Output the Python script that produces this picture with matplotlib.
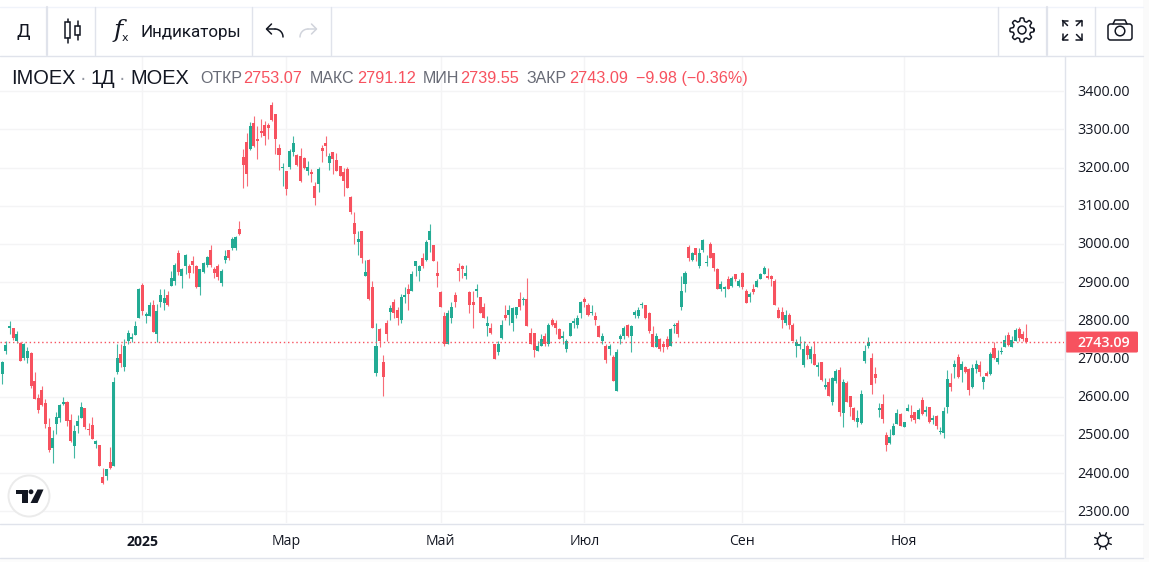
import numpy as np
from matplotlib import pyplot as plt
from matplotlib.patches import Circle, Polygon, Rectangle, FancyBboxPatch

UP = "#22ab94"
DOWN = "#f7525f"
INK = "#131722"
GRID = "#f4f4f5"
BORDER = "#e0e3eb"

opens = [2677, 2659, 2719, 2780, 2780, 2746, 2740, 2702, 2701, 2714,
         2641, 2596, 2617, 2583, 2520, 2465, 2528, 2545, 2581, 2586,
         2539, 2471, 2523, 2545, 2570, 2515, 2526, 2477, 2473, 2391,
         2392, 2429, 2418, 2664, 2712, 2678, 2746, 2751, 2761, 2806,
         2893, 2812, 2812, 2841, 2764, 2848, 2846, 2867, 2890, 2904,
         2975, 2917, 2943, 2943, 2954, 2943, 2888, 2927, 2946, 2985,
         2935, 2943, 2898, 2959, 2983, 2990, 2990, 3040, 3227, 3267,
         3248, 3317, 3275, 3296, 3311, 3311, 3364, 3340, 3251, 3198,
         3190, 3201, 3240, 3232, 3230, 3225, 3190, 3188, 3151, 3156,
         3251, 3264, 3211, 3240, 3219, 3204, 3188, 3196, 3122, 3056,
         3006, 3033, 2917, 2959, 2888, 2661, 2776, 2690, 2792, 2823,
         2849, 2826, 2800, 2862, 2883, 2878, 2943, 2928, 2962, 2959,
         3009, 2996, 2925, 2873, 2810, 2739, 2805, 2865, 2938, 2943,
         2915, 2875, 2849, 2878, 2860, 2834, 2784, 2781, 2737, 2716,
         2753, 2813, 2813, 2794, 2815, 2855, 2852, 2857, 2768, 2766,
         2719, 2732, 2760, 2739, 2800, 2794, 2776, 2753, 2724, 2760,
         2792, 2789, 2818, 2855, 2839, 2820, 2810, 2786, 2747, 2734,
         2724, 2705, 2614, 2750, 2758, 2789, 2758, 2815, 2810, 2839,
         2839, 2820, 2763, 2729, 2752, 2739, 2750, 2732, 2784, 2792,
         2834, 2894, 2993, 2959, 2988, 2943, 2985, 2949, 3001, 2975,
         2933, 2881, 2883, 2907, 2891, 2920, 2891, 2925, 2878, 2862,
         2883, 2888, 2909, 2922, 2917, 2917, 2904, 2828, 2823, 2792,
         2815, 2789, 2734, 2734, 2682, 2734, 2700, 2713, 2679, 2691,
         2626, 2639, 2586, 2641, 2670, 2558, 2636, 2602, 2571, 2534,
         2532, 2694, 2733, 2701, 2660, 2566, 2581, 2500, 2479, 2500,
         2529, 2555, 2521, 2563, 2552, 2560, 2542, 2592, 2560, 2573,
         2539, 2550, 2508, 2505, 2573, 2636, 2678, 2704, 2670, 2678,
         2673, 2626, 2673, 2683, 2639, 2662, 2660, 2728, 2691, 2717,
         2730, 2762, 2730, 2746, 2777, 2764, 2753.07]

highs = [2680, 2693, 2747, 2798, 2781, 2771, 2742, 2740, 2730, 2716,
         2664, 2607, 2628, 2594, 2544, 2513, 2560, 2581, 2599, 2588,
         2554, 2526, 2552, 2586, 2571, 2531, 2547, 2486, 2473, 2413,
         2410, 2468, 2651, 2738, 2738, 2751, 2774, 2767, 2798, 2885,
         2898, 2822, 2848, 2854, 2843, 2883, 2883, 2877, 2930, 2951,
         2983, 2938, 2973, 2948, 2969, 2946, 2935, 2952, 2968, 2996,
         2940, 2948, 2933, 2985, 2985, 3019, 3020, 3059, 3248, 3290,
         3319, 3335, 3309, 3327, 3322, 3317, 3372, 3341, 3261, 3211,
         3191, 3248, 3282, 3235, 3251, 3227, 3217, 3196, 3161, 3201,
         3259, 3282, 3238, 3241, 3238, 3205, 3198, 3201, 3125, 3083,
         3033, 3034, 2959, 2960, 2904, 2792, 2781, 2708, 2802, 2839,
         2857, 2836, 2870, 2886, 2894, 2930, 2955, 2946, 2975, 3009,
         3053, 2998, 2954, 2878, 2823, 2828, 2847, 2875, 2949, 2944,
         2946, 2876, 2878, 2894, 2862, 2844, 2810, 2792, 2739, 2745,
         2800, 2841, 2839, 2836, 2836, 2873, 2860, 2912, 2779, 2768,
         2745, 2763, 2768, 2792, 2807, 2802, 2781, 2773, 2750, 2793,
         2805, 2815, 2850, 2860, 2844, 2841, 2823, 2789, 2766, 2737,
         2737, 2708, 2724, 2763, 2784, 2790, 2789, 2828, 2834, 2849,
         2840, 2821, 2784, 2766, 2753, 2745, 2758, 2779, 2794, 2800,
         2917, 2928, 2996, 2980, 2989, 2988, 3014, 2972, 3006, 2977,
         2936, 2904, 2891, 2917, 2915, 2921, 2907, 2926, 2883, 2875,
         2896, 2907, 2923, 2941, 2938, 2918, 2907, 2836, 2834, 2826,
         2818, 2792, 2750, 2758, 2747, 2737, 2734, 2745, 2692, 2692,
         2649, 2649, 2652, 2673, 2678, 2647, 2641, 2603, 2573, 2566,
         2618, 2735, 2756, 2715, 2678, 2584, 2607, 2508, 2516, 2532,
         2568, 2558, 2535, 2581, 2579, 2561, 2571, 2600, 2576, 2574,
         2552, 2552, 2521, 2573, 2670, 2662, 2696, 2712, 2694, 2681,
         2675, 2686, 2696, 2694, 2653, 2667, 2717, 2743, 2722, 2730,
         2762, 2769, 2759, 2780, 2783, 2772, 2791.12]

lows = [2657, 2634, 2712, 2763, 2748, 2741, 2693, 2696, 2689, 2623,
        2594, 2557, 2576, 2518, 2455, 2426, 2502, 2533, 2578, 2523,
        2481, 2439, 2505, 2544, 2515, 2499, 2489, 2465, 2418, 2371,
        2382, 2410, 2418, 2659, 2678, 2667, 2738, 2743, 2761, 2805,
        2814, 2793, 2811, 2769, 2743, 2835, 2827, 2838, 2890, 2893,
        2919, 2885, 2922, 2912, 2925, 2885, 2867, 2925, 2940, 2940,
        2912, 2906, 2890, 2951, 2959, 2983, 2983, 3022, 3146, 3151,
        3246, 3254, 3222, 3280, 3259, 3275, 3322, 3235, 3193, 3151,
        3127, 3196, 3230, 3204, 3161, 3196, 3180, 3161, 3101, 3135,
        3214, 3230, 3193, 3183, 3190, 3177, 3125, 3146, 3077, 3001,
        2972, 2951, 2917, 2854, 2779, 2653, 2729, 2601, 2745, 2802,
        2807, 2789, 2792, 2844, 2826, 2878, 2915, 2902, 2936, 2956,
        2980, 2956, 2888, 2834, 2732, 2739, 2792, 2836, 2904, 2912,
        2909, 2820, 2781, 2862, 2820, 2807, 2758, 2763, 2698, 2708,
        2750, 2802, 2789, 2771, 2807, 2826, 2839, 2784, 2737, 2703,
        2719, 2732, 2732, 2732, 2784, 2763, 2750, 2737, 2716, 2760,
        2781, 2779, 2807, 2836, 2810, 2813, 2789, 2755, 2739, 2687,
        2708, 2640, 2614, 2737, 2750, 2757, 2716, 2805, 2805, 2831,
        2804, 2768, 2729, 2729, 2719, 2716, 2726, 2732, 2766, 2755,
        2826, 2873, 2956, 2954, 2956, 2936, 2980, 2943, 2962, 2930,
        2881, 2878, 2860, 2881, 2888, 2902, 2886, 2883, 2844, 2847,
        2870, 2886, 2907, 2920, 2907, 2891, 2839, 2805, 2779, 2789,
        2776, 2747, 2703, 2724, 2677, 2698, 2687, 2682, 2653, 2641,
        2620, 2602, 2579, 2636, 2550, 2521, 2586, 2550, 2537, 2521,
        2529, 2688, 2728, 2607, 2636, 2547, 2532, 2458, 2477, 2500,
        2529, 2524, 2521, 2563, 2537, 2532, 2542, 2552, 2550, 2532,
        2529, 2516, 2503, 2492, 2558, 2615, 2649, 2649, 2639, 2662,
        2605, 2623, 2662, 2654, 2620, 2654, 2657, 2699, 2686, 2712,
        2730, 2733, 2730, 2746, 2746, 2746, 2739.55]

closes = [2660, 2691, 2735, 2785, 2754, 2764, 2694, 2738, 2719, 2628,
          2595, 2566, 2579, 2529, 2460, 2492, 2547, 2578, 2586, 2536,
          2484, 2510, 2536, 2573, 2520, 2512, 2489, 2484, 2418, 2374,
          2410, 2413, 2638, 2701, 2688, 2733, 2767, 2756, 2785, 2883,
          2825, 2817, 2841, 2769, 2825, 2867, 2859, 2841, 2911, 2946,
          2927, 2935, 2972, 2925, 2946, 2888, 2933, 2951, 2967, 2946,
          2925, 2914, 2930, 2969, 2964, 3014, 3019, 3025, 3206, 3183,
          3309, 3256, 3269, 3290, 3283, 3304, 3325, 3275, 3232, 3201,
          3143, 3243, 3264, 3206, 3164, 3198, 3201, 3183, 3119, 3196,
          3243, 3256, 3230, 3222, 3190, 3177, 3164, 3146, 3083, 3025,
          3014, 2962, 2927, 2856, 2781, 2732, 2745, 2651, 2763, 2831,
          2818, 2805, 2862, 2865, 2870, 2922, 2954, 2943, 2943, 3006,
          3035, 2956, 2917, 2834, 2737, 2820, 2834, 2849, 2928, 2933,
          2925, 2839, 2839, 2883, 2820, 2807, 2794, 2768, 2698, 2737,
          2787, 2807, 2828, 2831, 2834, 2834, 2857, 2784, 2739, 2721,
          2734, 2752, 2737, 2789, 2789, 2781, 2750, 2760, 2747, 2792,
          2797, 2807, 2849, 2847, 2813, 2823, 2800, 2755, 2758, 2695,
          2734, 2640, 2716, 2758, 2779, 2758, 2786, 2823, 2826, 2841,
          2805, 2771, 2729, 2760, 2724, 2729, 2729, 2776, 2786, 2763,
          2878, 2925, 2962, 2977, 2970, 2977, 3011, 2951, 2964, 2938,
          2881, 2896, 2888, 2883, 2912, 2909, 2902, 2886, 2844, 2868,
          2873, 2902, 2922, 2936, 2912, 2909, 2839, 2807, 2802, 2815,
          2789, 2747, 2742, 2737, 2724, 2708, 2726, 2682, 2684, 2644,
          2631, 2602, 2649, 2667, 2560, 2639, 2586, 2573, 2539, 2545,
          2607, 2720, 2743, 2631, 2649, 2571, 2542, 2474, 2495, 2524,
          2558, 2524, 2534, 2571, 2545, 2539, 2566, 2555, 2566, 2534,
          2545, 2524, 2511, 2563, 2647, 2626, 2686, 2652, 2686, 2665,
          2618, 2675, 2686, 2665, 2652, 2654, 2712, 2701, 2701, 2720,
          2749, 2735, 2749, 2775, 2754, 2751, 2743.09]

price_ticks = [2300, 2400, 2500, 2600, 2700, 2800, 2900, 3000, 3100, 3200, 3300, 3400]
month_bars = [40, 80, 123, 163, 207, 252]
month_labels = ["2025", "Мар", "Май", "Июл", "Сен", "Ноя"]
legend_names = ["ОТКР", "МАКС", "МИН", "ЗАКР"]
legend_values = ["2753.07", "2791.12", "2739.55", "2743.09"]
last_price = 2743.09

W, H = 1149, 562
BAR_PX = 3.593
FIRST_PX = -1.26
PANE_L, PANE_R, PANE_T, PANE_B = 0, 1064, 56, 523
PX_PER_PT = 0.382

plt.rcParams["font.family"] = ["Liberation Sans", "DejaVu Sans"]
px = 72 / 100  # font px -> pt at dpi 100

fig = plt.figure(figsize=(W / 100, H / 100), dpi=100, facecolor="white")

# chart pane
ax = fig.add_axes([PANE_L / W, 1 - PANE_B / H, (PANE_R - PANE_L) / W, (PANE_B - PANE_T) / H])
ax.set_xlim((PANE_L - FIRST_PX) / BAR_PX, (PANE_R - FIRST_PX) / BAR_PX)
ax.set_ylim(2800 - (PANE_B - 320.3) / PX_PER_PT, 2800 + (320.3 - PANE_T) / PX_PER_PT)
for s in ax.spines.values():
    s.set_visible(False)
ax.set_xticks([])
ax.set_yticks([])
for p in price_ticks:
    ax.axhline(p, color=GRID, lw=1, zorder=1)
for b in month_bars:
    ax.axvline(b, color=GRID, lw=1, zorder=1)

o, h, l, c = map(np.array, (opens, highs, lows, closes))
idx = np.arange(len(o))
colors = np.where(c >= o, UP, DOWN)
ax.vlines(idx, l, h, colors=colors, lw=0.8, alpha=0.85, zorder=2)
ax.bar(idx, np.maximum(np.abs(c - o), 2.5), bottom=np.minimum(o, c), width=0.84, color=colors, lw=0, zorder=3)
ax.axhline(last_price, color=DOWN, lw=1, ls=(0, (1, 2)), zorder=4)

# everything around the pane, in pixels
ui = fig.add_axes([0, 0, 1, 1], facecolor="none")
ui.set_xlim(0, W)
ui.set_ylim(H, 0)
ui.axis("off")


def line(xs, ys, color=BORDER, lw=1.0, **kw):
    ui.plot(xs, ys, color=color, lw=lw, solid_capstyle="round", **kw)


ui.add_patch(Rectangle((1143, 0), 6, H, color="#fafafa", lw=0))
ui.add_patch(Rectangle((0, 557.5), W, 5, color="#fcfcfc", lw=0))

# toolbar frame
line([0, 1143], [6.5, 6.5], "#f0f3fa")
line([0, 1143], [55.5, 55.5])
for x in [95.2, 252.2, 331.2, 998.2, 1095.2]:
    line([x, x], [7, 55])
for x in [46.6, 1046.6]:
    line([x, x], [7, 55], lw=1.6)

# pane frame
line([1064.5, 1064.5], [56, 557])
line([0, 1143], [523.5, 523.5])
line([0, 1143], [557.5, 557.5])

# toolbar icons and text
ui.text(23, 32, "Д", fontsize=18 * px, color=INK, ha="center", va="center", family="Roboto")
for x, y0, y1, y2, y3 in [(67.5, 19, 22, 38, 42.5), (77.5, 21, 26, 35, 40)]:
    line([x, x], [y0, y1], INK, 1.1)
    line([x, x], [y2, y3], INK, 1.1)
    ui.add_patch(Rectangle((x - 2.8, y1), 5.6, y2 - y1, fc="white", ec=INK, lw=1.1))
ui.text(118, 31, "f", fontsize=25 * px, color=INK, ha="center", va="center", family="DejaVu Serif", style="italic")
ui.text(125, 38, "x", fontsize=11 * px, color=INK, ha="center", va="center", family="DejaVu Sans")
ui.text(140, 32, "Индикаторы", fontsize=17 * px, color=INK, ha="left", va="center", family="Roboto")

# undo / redo arrows
t = np.linspace(0, np.pi / 2, 12)
for x0, d, col in [(266, 1, INK), (317, -1, "#d1d4dc")]:
    line(x0 + d * (9 + 8 * np.sin(t)), 37 - 8 * np.cos(t), col, 1.1)
    line([x0 + d * 1, x0 + d * 9], [29, 29], col, 1.1)
    line([x0 + d * 5.5, x0 + d * 0.5, x0 + d * 5.5], [24, 29, 34], col, 1.1)

# gear
th = np.linspace(0, 2 * np.pi, 161)
rg = 10.5 + 1.6 * np.tanh(3 * np.cos(8 * th))
line(1022 + rg * np.cos(th), 30 + rg * np.sin(th), INK, 1.1)
ui.add_patch(Circle((1022, 30), 4, fc="none", ec=INK, lw=1.1))

# expand arrows
for sx, sy in [(-1, -1), (1, -1), (-1, 1), (1, 1)]:
    cx, cy = 1072 + sx * 9.5, 30 + sy * 9.5
    line([cx, cx - sx * 5], [cy, cy - sy * 5], INK, 1.1)
    line([cx, cx - sx * 5.5], [cy, cy], INK, 1.1)
    line([cx, cx], [cy, cy - sy * 5.5], INK, 1.1)

# camera
ui.add_patch(FancyBboxPatch((1108, 24), 24, 16, boxstyle="round,pad=0,rounding_size=2.5", fc="none", ec=INK, lw=1.1))
line([1113, 1115, 1125, 1127], [24, 20, 20, 24], INK, 1.1)
ui.add_patch(Circle((1120, 31), 4.8, fc="none", ec=INK, lw=1.1))

# symbol line
ui.text(11, 78, "IMOEX", fontsize=20 * px, color=INK, va="center")
ui.text(83, 78, "·", fontsize=20 * px, color="#9598a1", va="center", ha="center")
ui.text(91, 78, "1Д", fontsize=20 * px, color=INK, va="center")
ui.text(122, 78, "·", fontsize=20 * px, color="#9598a1", va="center", ha="center")
ui.text(130.5, 78, "MOEX", fontsize=20 * px, color=INK, va="center")

name_x = [200, 310, 423, 527]
value_x = [243, 357, 460, 569]
for name, nx, value, vx in zip(legend_names, name_x, legend_values, value_x):
    ui.text(nx, 78.5, name, fontsize=16 * px, color="#686b76", va="center")
    ui.text(vx, 78.5, value, fontsize=16.2 * px, color=DOWN, va="center")
ui.text(636, 78.5, "−9.98 (−0.36%)", fontsize=16.1 * px, color=DOWN, va="center")

# price scale
for p in price_ticks:
    ypx = 320.3 + (2800 - p) * PX_PER_PT
    ui.text(1103.5, ypx + 1, f"{p:.2f}", fontsize=14.3 * px, color=INK, ha="center", va="center", family="Open Sans")
ylast = 320.3 + (2800 - last_price) * PX_PER_PT
ui.add_patch(FancyBboxPatch((1065.5, ylast - 10.5), 72.5, 21, boxstyle="round,pad=0,rounding_size=1.5", fc=DOWN, ec="none"))
ui.text(1103.5, ylast + 1, f"{last_price:.2f}", fontsize=14.3 * px, color="white", ha="center", va="center", family="Open Sans", weight="semibold")

# time scale
for b, lab in zip(month_bars, month_labels):
    xpx = FIRST_PX + b * BAR_PX
    ui.text(xpx, 541.5, lab, fontsize=14 * px, color=INK, ha="center", va="center", family="Open Sans",
            weight="bold" if lab == "2025" else "normal")

# sun icon
ui.add_patch(Circle((1103, 541), 5.6, fc="none", ec=INK, lw=1.1))
for a in np.arange(8) * np.pi / 4 + np.pi / 8:
    line([1103 + 6.2 * np.cos(a), 1103 + 9 * np.cos(a)], [541 + 6.2 * np.sin(a), 541 + 9 * np.sin(a)], INK, 1.0)

# logo badge
ui.add_patch(Circle((29, 496), 20.5, fc="white", ec="#ebebeb", lw=1.4, zorder=5))
ui.add_patch(Polygon([(16, 489.5), (27.5, 489.5), (27.5, 503), (21.5, 503), (21.5, 494), (16, 494)], fc=INK, ec="none", zorder=6))
ui.add_patch(Circle((31, 491.8), 2.4, fc=INK, ec="none", zorder=6))
ui.add_patch(Polygon([(37.5, 489.5), (43.5, 489.5), (37.5, 503), (30.5, 503)], fc=INK, ec="none", zorder=6))

fig.savefig("out.png", dpi=100)
